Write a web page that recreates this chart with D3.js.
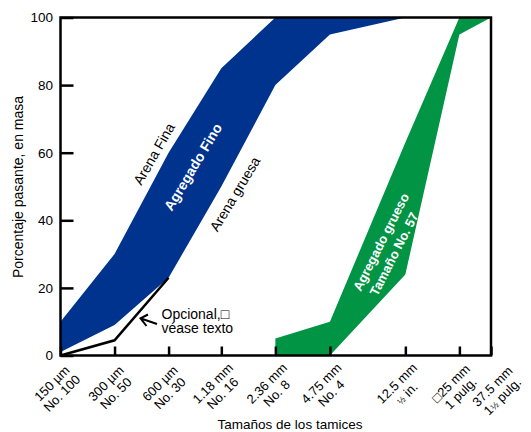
<!DOCTYPE html>
<html><head><meta charset="utf-8">
<script src="https://cdn.jsdelivr.net/npm/d3@7"></script>
<style>body{margin:0;background:#fff} svg{display:block;font-family:"Liberation Sans",Arial,sans-serif}</style>
</head><body><svg id="c" width="531" height="432"></svg>
<script>
// ---- data ----
const sieveSizes = [0.15, 0.3, 0.6, 1.18, 2.36, 4.75, 12.5, 25, 37.5]; // mm
const sieveMetric = ["150 µm", "300 µm", "600 µm", "1.18 mm", "2.36 mm", "4.75 mm", "12.5 mm", "\u25A125 mm", "37.5 mm"];
const sieveNames = ["No. 100", "No. 50", "No. 30", "No. 16", "No. 8", "No. 4", "½ in.", "1 pulg.", "1½ pulg."];
const yTicks = [0, 20, 40, 60, 80, 100];
const fineSizes = [0.15, 0.3, 0.6, 1.18, 2.36, 4.75, 12.5];
const fineUpper = [10, 30, 60, 85, 100, 100, 100];
const fineLower = [1, 9, 23, 50, 80, 95, 100];
const coarseSizes = [2.36, 4.75, 12.5, 25, 37.5];
const coarseUpper = [5, 10, 63, 100, 100];
const coarseLower = [0, 0, 24, 95, 100];
const optSizes = [0.15, 0.3, 0.6];
const optValues = [0, 4.5, 23];

// ---- layout ----
const L = 60.5, R = 491, T = 17.5, B = 355.5;
const svg = d3.select("#c");
const x = d3.scaleLog().domain([0.15, 37.5]).range([L, R]);
const y = d3.scaleLinear().domain([0, 100]).range([B, T]);
const BLUE = "#00338d", GREEN = "#009444";

const area = d3.area().x(d => x(d.s)).y0(d => y(d.lo)).y1(d => y(d.hi));
const fine = fineSizes.map((s, i) => ({s, hi: fineUpper[i], lo: fineLower[i]}));
const coarse = coarseSizes.map((s, i) => ({s, hi: coarseUpper[i], lo: coarseLower[i]}));
svg.append("path").attr("d", area(fine)).attr("fill", BLUE);
svg.append("path").attr("d", area(coarse)).attr("fill", GREEN);

// optional line
svg.append("path")
  .attr("d", d3.line().x((d, i) => x(optSizes[i])).y(d => y(d))(optValues))
  .attr("fill", "none").attr("stroke", "#000").attr("stroke-width", 2.5).attr("stroke-linejoin", "miter");

// axes
const ya = svg.append("g").attr("transform", `translate(${L},0)`)
  .call(d3.axisLeft(y).tickValues(yTicks).tickSize(-13).tickSizeOuter(0).tickPadding(7.5).tickFormat(d3.format("d")));
ya.select(".domain").remove();
ya.selectAll("line").attr("stroke", "#000").attr("stroke-width", 2.5);
ya.selectAll("text").attr("font-size", 13.5).attr("fill", "#000").attr("font-family", "Liberation Sans, Arial, sans-serif");

const xa = svg.append("g").attr("transform", `translate(0,${B})`)
  .call(d3.axisBottom(x).tickValues(sieveSizes).tickSize(-9).tickSizeOuter(0).tickFormat(""));
xa.select(".domain").remove();
xa.selectAll("line").attr("stroke", "#000").attr("stroke-width", 2.5);

// frame
svg.append("rect").attr("x", L).attr("y", T).attr("width", R - L).attr("height", B - T)
  .attr("fill", "none").attr("stroke", "#000").attr("stroke-width", 2.5);

// x tick labels
function addRich(sel, str) {
  const parts = str.split("½");
  parts.forEach((p, i) => {
    if (p) sel.append("tspan").text(p);
    if (i < parts.length - 1) sel.append("tspan").attr("font-size", 9).text("½");
  });
}
sieveSizes.forEach((s, i) => {
  const last = i === sieveSizes.length - 1;
  const gx = x(s) - 4 + (last ? 10 : 0), gy = 388 + (last ? 3 : 0);
  const g = svg.append("g").attr("transform", `translate(${gx},${gy}) rotate(-45)`)
    .attr("font-size", 13).attr("text-anchor", "middle").attr("fill", "#000");
  addRich(g.append("text").attr("y", -2), sieveMetric[i]);
  addRich(g.append("text").attr("y", 12), sieveNames[i]);
});

// axis titles
svg.append("text").attr("x", 290).attr("y", 429).attr("text-anchor", "middle")
  .attr("font-size", 13.5).text("Tamaños de los tamices");
svg.append("text").attr("transform", "translate(23,187) rotate(-90)").attr("text-anchor", "middle")
  .attr("font-size", 14).text("Porcentaje pasante, en masa");

// in-plot labels
function rotText(cx, cy, ang, txt, opts) {
  return svg.append("text").attr("transform", `translate(${cx},${cy}) rotate(${ang})`)
    .attr("text-anchor", "middle").attr("dy", "0.35em")
    .attr("font-size", opts.size).attr("fill", opts.fill).attr("font-weight", opts.weight || "normal")
    .text(txt);
}
rotText(154, 154, -60, "Arena Fina", {size: 14, fill: "#000"});
rotText(193, 167, -59, "Agregado Fino", {size: 14, fill: "#fff", weight: "bold"});
rotText(235, 194, -59, "Arena gruesa", {size: 14, fill: "#000"});
rotText(381, 242, -63, "Agregado grueso", {size: 13, fill: "#fff", weight: "bold"});
rotText(394, 254, -63, "Tamaño No. 57", {size: 13, fill: "#fff", weight: "bold"});

// optional annotation
svg.append("text").attr("x", 161.5).attr("y", 318.5).attr("font-size", 14).text("Opcional,\u25A1");
svg.append("text").attr("x", 161.5).attr("y", 333).attr("font-size", 14).text("véase texto");
svg.append("path").attr("d", "M157,324 L141,318.5 M148,314.5 L140.5,318.3 L146.5,326")
  .attr("fill", "none").attr("stroke", "#000").attr("stroke-width", 2);
</script></body></html>
